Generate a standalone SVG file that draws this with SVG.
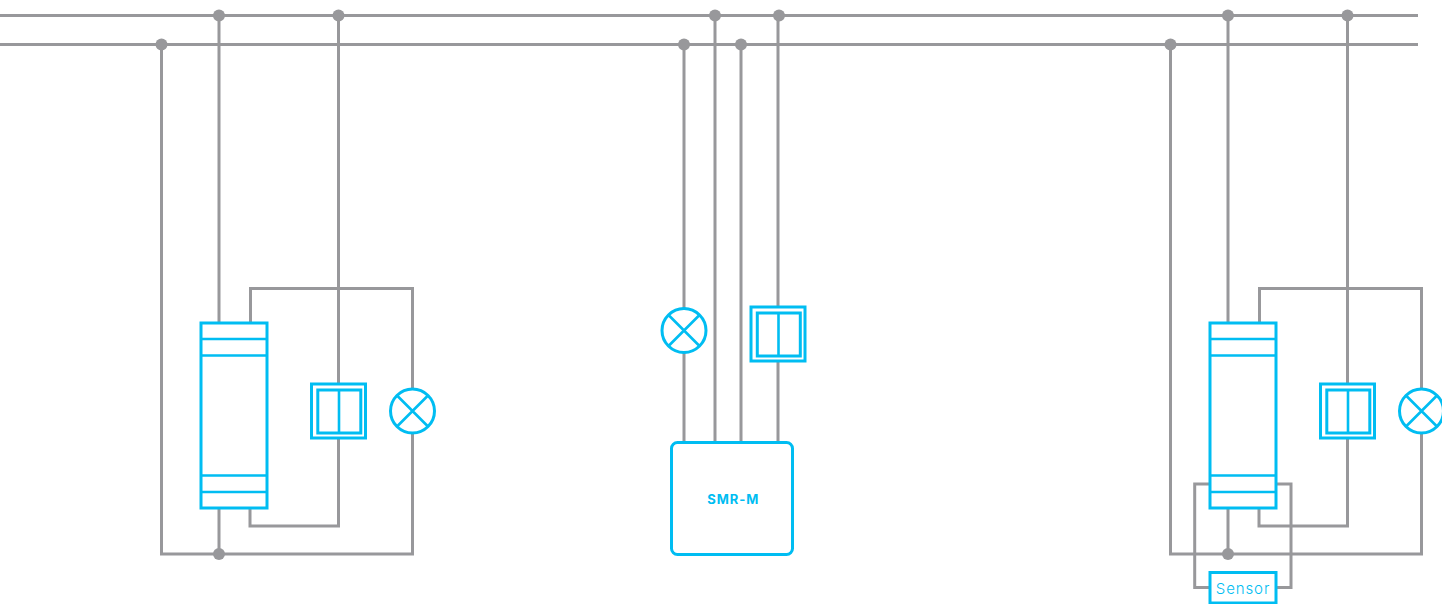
<svg xmlns="http://www.w3.org/2000/svg" width="1442" height="604" viewBox="0 0 1442 604">
<style>
.w{fill:none;stroke:#98989b;stroke-width:3}
.d{fill:#98989b;stroke:none}
.b{fill:#fff;stroke:#00bdf2;stroke-width:3}
.l{fill:none;stroke:#00bdf2;stroke-width:2.6}
.t{fill:#00bdf2;font-family:"Inter","Liberation Sans",sans-serif;text-anchor:middle}
</style>
<defs>
<g id="mod"><rect class="b" x="0" y="0" width="66" height="185"/><path class="l" d="M0 16H66M0 32.500H66M0 152.500H66M0 169H66"/></g>
<g id="sw"><rect class="b" x="0" y="0" width="54" height="54"/><rect class="b" x="6.300" y="6" width="43" height="43"/><path class="l" d="M27.500 6V49"/></g>
<g id="lamp"><circle class="b" cx="0" cy="0" r="22"/><path class="l" d="M-15.500 -15.500L15.500 15.500M-15.500 15.500L15.500 -15.500"/></g>
</defs>
<g id="connectors">
<path class="w" d="M0 15.500H1418M0 44.500H1418"/>
<path class="w" d="M161.500 44.500V554H412.500V389M219 15.500V554M338.500 15.500V526H250V508M250.500 323V288.500H412.500V390"/>
<path class="w" d="M684 44.500V443M715 15.500V443M741 44.500V443M778 15.500V443"/>
<path class="w" d="M1170.500 44.500V554H1421.500V389M1228 15.500V554M1347.500 15.500V526H1259V508M1259.500 323V288.500H1421.500V390"/>
<path class="w" d="M1210 484H1194.700V587.500H1210M1276 484H1291V587.500H1276"/>
<g>
<circle class="d" cx="219" cy="15.500" r="6"/><circle class="d" cx="338.500" cy="15.500" r="6"/><circle class="d" cx="715" cy="15.500" r="6"/><circle class="d" cx="779" cy="15.500" r="6"/><circle class="d" cx="1228" cy="15.500" r="6"/><circle class="d" cx="1347.500" cy="15.500" r="6"/>
<circle class="d" cx="161.500" cy="44.500" r="6"/><circle class="d" cx="684" cy="44.500" r="6"/><circle class="d" cx="741" cy="44.500" r="6"/><circle class="d" cx="1170.500" cy="44.500" r="6"/>
<circle class="d" cx="219" cy="554" r="6"/><circle class="d" cx="1228" cy="554" r="6"/>
</g>
</g>
<g id="module-left"><use href="#mod" x="201" y="323"/></g>
<g id="switch-left"><use href="#sw" x="311.500" y="384"/></g>
<g id="lamp-left"><use href="#lamp" x="412.500" y="411"/></g>
<g id="lamp-mid"><use href="#lamp" x="684" y="330.500"/></g>
<g id="switch-mid"><use href="#sw" x="751" y="307"/></g>
<g id="smr-m"><rect class="b" x="671.500" y="442.500" width="121" height="112" rx="6"/><text class="t" x="733.300" y="504" font-size="13" font-weight="700" letter-spacing="0.9">SMR-M</text></g>
<g id="module-right"><use href="#mod" x="1210" y="323"/></g>
<g id="switch-right"><use href="#sw" x="1320.500" y="384"/></g>
<g id="lamp-right"><use href="#lamp" x="1421.500" y="411"/></g>
<g id="sensor"><rect class="b" x="1210" y="572.500" width="66" height="30.500"/><text class="t" x="1243" y="594" font-size="15" font-weight="300" letter-spacing="0.9">Sensor</text></g>
</svg>
